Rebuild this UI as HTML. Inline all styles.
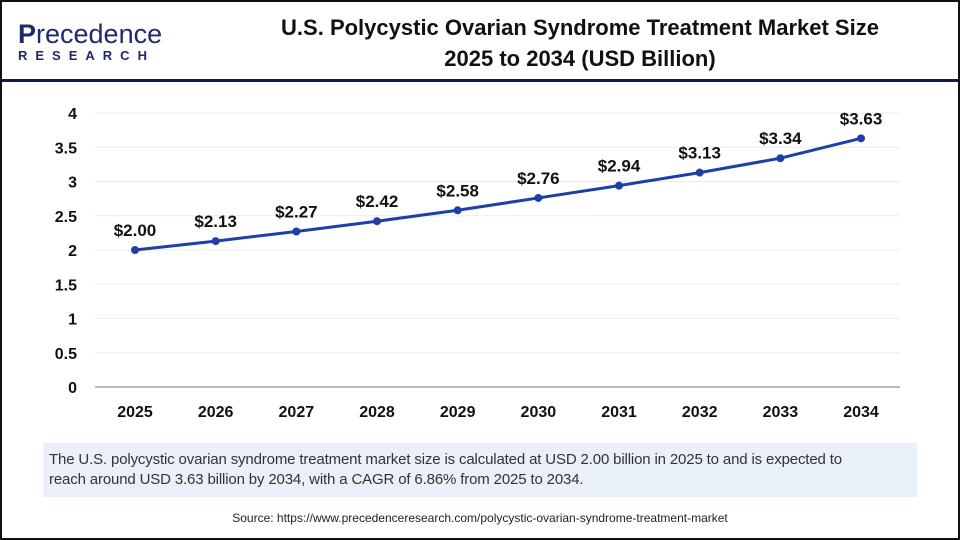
<!DOCTYPE html>
<html><head><meta charset="utf-8"><style>
body{margin:0;width:960px;height:540px;overflow:hidden;background:#fff;font-family:"Liberation Sans",Arial,sans-serif;}
#frame{position:absolute;left:0;top:0;width:956px;height:536px;border:2px solid #111;}
</style></head><body>
<div id="frame"></div>
<div style="position:absolute;left:18px;top:20px;width:140px;height:42px;">
 <div style="font-size:27px;font-weight:bold;color:#1d2a6b;line-height:28px;">P<span style="font-weight:normal">recedence</span></div>
 <div style="font-size:13px;font-weight:bold;color:#1d2a6b;letter-spacing:8px;line-height:16px;">RESEARCH</div>
</div>
<div style="position:absolute;left:200px;top:12px;width:760px;text-align:center;font-size:22px;font-weight:bold;color:#111;line-height:31px;">U.S. Polycystic Ovarian Syndrome Treatment Market Size<br>2025 to 2034 (USD Billion)</div>
<div style="position:absolute;left:2px;top:79px;width:956px;height:3px;background:#0f1a4d;"></div>
<svg id="chart" width="960" height="440" style="position:absolute;left:0;top:0"></svg>
<div style="position:absolute;left:43px;top:443px;width:862px;height:40px;padding:7px 6px;background:#e9f0f9;font-size:15px;letter-spacing:-0.15px;color:#333;line-height:20px;">The U.S. polycystic ovarian syndrome treatment market size is calculated at USD 2.00 billion in 2025 to and is expected to<br>reach around USD 3.63 billion by 2034, with a CAGR of 6.86% from 2025 to 2034.</div>
<div style="position:absolute;left:0;top:511px;width:960px;text-align:center;font-size:12px;color:#222;">Source: https://www.precedenceresearch.com/polycystic-ovarian-syndrome-treatment-market</div>
<script>
const years=["2025","2026","2027","2028","2029","2030","2031","2032","2033","2034"];
const values=[2.00,2.13,2.27,2.42,2.58,2.76,2.94,3.13,3.34,3.63];
const valueLabels=["$2.00","$2.13","$2.27","$2.42","$2.58","$2.76","$2.94","$3.13","$3.34","$3.63"];
const yTicks=[0,0.5,1,1.5,2,2.5,3,3.5,4];
const svg=document.getElementById('chart');
const NS='http://www.w3.org/2000/svg';
const x0=135,dx=80.67,yBase=387,yTop=113,yMax=4;
const xs=i=>x0+i*dx;
const ys=v=>yBase-(v/yMax)*(yBase-yTop);
function mk(t,a){const e=document.createElementNS(NS,t);for(const k in a)e.setAttribute(k,a[k]);svg.appendChild(e);return e;}
yTicks.forEach(t=>{
 const g=mk('line',{x1:95,x2:900,y1:ys(t),y2:ys(t),stroke:t===0?'#bbb':'#ececec','stroke-width':t===0?2:1});
 
 
 const l=mk('text',{x:77,y:ys(t)+6,'text-anchor':'end','font-size':16,'font-weight':'bold',fill:'#111'});
 l.textContent=t;
 
 
});
years.forEach((y,i)=>{
 const l=mk('text',{x:xs(i),y:417,'text-anchor':'middle','font-size':16,'font-weight':'bold',fill:'#111'});
 l.textContent=y;
 
 
});
const p=mk('polyline',{points:values.map((v,i)=>xs(i)+','+ys(v)).join(' '),fill:'none',stroke:'#1f3fa6','stroke-width':3});


values.forEach((v,i)=>{
 const c=mk('circle',{cx:xs(i),cy:ys(v),r:4,fill:'#1f3fa6'});
 
 
 const t=mk('text',{x:xs(i),y:ys(v)-14,'text-anchor':'middle','font-size':17,'font-weight':'bold',fill:'#111'});
 t.textContent=valueLabels[i];
 
 
});
</script>
</body></html>
